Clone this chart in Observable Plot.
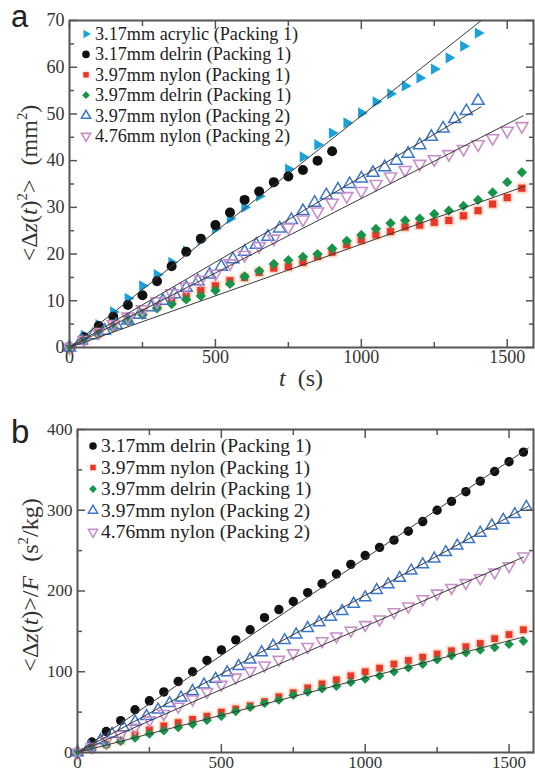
<!DOCTYPE html>
<html><head><meta charset="utf-8">
<script src="https://cdn.jsdelivr.net/npm/d3@7"></script>
<script src="https://cdn.jsdelivr.net/npm/@observablehq/plot@0.6"></script>
<style>
body{margin:0;background:#fff;}
#chart svg{display:block;}
</style></head><body><div id="chart"></div>
<script>
// ---- time grids (s) ----
const T50 = [0,50,100,150,200,250,300,350,400,450,500,550,600,650,700,750,800,850,900,950,1000,1050,1100,1150,1200,1250,1300,1350,1400,1450,1500,1550];
const T40 = [0,40,80,120,160,200,240,280,320,360,400,440,480,520,560,600,640,680,720,760,800,840,880,920,960,1000,1040,1080,1120,1160,1200,1240,1280,1320,1360,1400,1440,1480,1520,1560];

// ---- panel a : <Δz(t)^2> (mm^2) ----
const a_acrylic317 = [0,2.6,4.9,7.6,10.5,13.2,15.6,18.2,20.6,23,25.4,27.6,30,32.4,35.2,38.2,40.8,43.4,45.9,48.1,50.2,52.6,54.3,56,57.7,59.6,62,64.5,67.3];
const a_delrin317 = [0,2.2,4.6,6.6,9.1,11.2,14.2,17.4,20.5,23.3,26.2,28.9,31.6,33.4,35.4,36.6,38,40,42];
const a_nylon397P1 = [0,1.5,3,4.5,6,7.5,8.8,10,11,12.2,13.2,14.3,15,16.1,17,17.3,18.2,19.5,20.4,22,23,24.1,24.8,25.8,26.2,26.8,27.2,28.2,29.3,30.7,32.1,34.1];
const a_delrin397P1 = [0,1.5,2.8,4.2,5.6,7,8.4,9.3,10.3,11,12.2,13.6,15.2,16.4,17.9,18.7,19.4,20,21.2,22.8,24.1,25.4,26.6,27.2,27.6,28.6,29.3,30.3,31.6,33.2,35.4,37.5];
const a_nylon397P2 = [0,1.5,2.6,3.6,4.8,5.8,7,8.6,10,11.4,12.8,14.2,15.6,17.3,18.9,20.5,22,23.7,25.5,27.3,29.2,31,32.6,33.8,35,36.2,37.4,38.6,40,41.5,43.3,45.1,46.9,48.9,50.6,52.8];
const a_nylon476P2 = [0,1.6,3.3,5,6.6,8.2,9.9,11.6,13,14.5,15.8,18,19.8,21.7,23.3,25.7,27.4,29.1,31,32.4,33.5,35,36.6,38,39.3,40.3,41.4,42.5,43.5,44.8,46.4,47.4];
// fitted straight lines, panel a : [t, value] end points
const a_fitAcrylic = [[0,0],[1411,70]];
const a_fitNylonP2 = [[0,0],[1410,51.5]];
const a_fitNylon476 = [[0,0],[1555,49.6]];
const a_fitPacking1 = [[0,0],[1560,34.5]];

// ---- panel b : <Δz(t)>/F (s^2/kg) ----
const b_delrin317 = [0,13,26,39.5,53,64,75,88,100,114,127,139.5,152,167,177,187,198,209,221,233,244,254,263,274,286,300,311,323,336,348,360,372];
const b_nylon397P1 = [0,5,10,15,22,28,33,37,41,45,50,54,58,63,69,74,80,85,90,95,100,104.5,109.5,114,118,122,126,131,135,141,146,152];
const b_delrin397P1 = [0,4,9,14,18,23,27,31,35,40,45,51,56,61,65,71,75,79,82,87,91,95,100,105,109.5,115,120,123.5,127,130,134,138];
const b_nylon397P2 = [0,7,15,23,31,38,45,53,61,68,76,84,91,99,107,115,124,132,139,146,154,161,168,175,184,192,201,208,216,225,233,240,248,256,264,272,281,288,295,304];
const b_nylon476P2 = [0,7,14,22,31,40,48,57,66,75,84,93,101,108,115,123,131,138,144,151,158,165,174,181,190,197,204,210,216,223,231,243];
const b_fitDelrin317 = [[0,0],[1567,377]];
const b_fitNylonP2 = [[0,0],[1567,305]];
const b_fitNylon476 = [[0,0],[1550,242]];
const b_fitPacking1 = [[0,0],[1550,143]];

// ---- ticks ----
const xTicksMajor = [0,500,1000,1500];
const xTicksMinor = [250,750,1250];
const yTicksMajorA = [0,10,20,30,40,50,60,70];
const yTicksMinorA = [5,15,25,35,45,55,65];
const yTicksMajorB = [0,100,200,300,400];
const yTicksMinorB = [50,150,250,350];

// ---- legend labels ----
const labAcrylic = "3.17mm acrylic (Packing 1)";
const labDelrin317 = "3.17mm delrin (Packing 1)";
const labNylon397P1 = "3.97mm nylon (Packing 1)";
const labDelrin397P1 = "3.97mm delrin (Packing 1)";
const labNylon397P2 = "3.97mm nylon (Packing 2)";
const labNylon476P2 = "4.76mm nylon (Packing 2)";

// ---- styles ----
const ST = {
  acrylic: {symbol:"triangle", rotate:90, fill:"#1ba1da", stroke:"none", k:0.84},
  delrin317: {symbol:"circle", rotate:0, fill:"#111", stroke:"none", k:1},
  nylonP1: {symbol:"square", rotate:0, fill:"#e8362a", stroke:"none", k:0.8, glow:"#f6a070"},
  delrinP1: {symbol:"square", rotate:45, fill:"#16944a", stroke:"none", k:0.82},
  nylonP2: {symbol:"triangle", rotate:0, fill:"none", stroke:"#3b76c8", sw:1.5, k:0.9},
  nylon476: {symbol:"triangle", rotate:180, fill:"none", stroke:"#c88ec8", sw:1.6, k:0.9}
};
const serif = "Liberation Serif, Times New Roman, serif";
const fmt = d3.format("d");

function pairs(ts, vs){ return vs.map((v,i)=>({t: ts[i], v})); }

function dotMarks(data, st, r){
  const m = [];
  if (st.glow) m.push(Plot.dot(data, {x:"t", y:"v", symbol: st.symbol, rotate: st.rotate, r: r*1.08, fill: st.glow, fillOpacity: 0.7, stroke: "none", imageFilter: "blur(1px)"}));
  m.push(Plot.dot(data, {x:"t", y:"v", symbol: st.symbol, rotate: st.rotate, r: r*st.k, fill: st.fill, stroke: st.stroke, strokeWidth: st.sw || 1}));
  return m;
}
function fitLine(ends){ return Plot.line(ends, {x: d=>d[0], y: d=>d[1], stroke:"#3a3a3a", strokeWidth:1}); }

function axes(yMajor, yMinor){
  const c = "#555";
  return [
    Plot.axisX(xTicksMajor, {anchor:"bottom", tickSize:0, tickPadding:3, label:null, tickFormat: fmt}),
    Plot.axisX(xTicksMajor, {anchor:"bottom", tickSize:-8, text:null, label:null, stroke:c, strokeWidth:1.5}),
    Plot.axisX(xTicksMinor, {anchor:"bottom", tickSize:-5, text:null, label:null, stroke:c, strokeWidth:1.5}),
    Plot.axisX(xTicksMajor, {anchor:"top", tickSize:-8, text:null, label:null, stroke:c, strokeWidth:1.5}),
    Plot.axisX(xTicksMinor, {anchor:"top", tickSize:-5, text:null, label:null, stroke:c, strokeWidth:1.5}),
    Plot.axisY(yMajor, {anchor:"left", tickSize:0, tickPadding:5, label:null, tickFormat: fmt}),
    Plot.axisY(yMajor, {anchor:"left", tickSize:-8, text:null, label:null, stroke:c, strokeWidth:1.5}),
    Plot.axisY(yMinor, {anchor:"left", tickSize:-5, text:null, label:null, stroke:c, strokeWidth:1.5}),
    Plot.axisY(yMajor, {anchor:"right", tickSize:-8, text:null, label:null, stroke:c, strokeWidth:1.5}),
    Plot.axisY(yMinor, {anchor:"right", tickSize:-5, text:null, label:null, stroke:c, strokeWidth:1.5}),
    Plot.frame({stroke:c, strokeWidth:2})
  ];
}

const symType = {triangle: d3.symbolTriangle, circle: d3.symbolCircle, square: d3.symbolSquare};
function legend(svg, items, {x, y0, dy, tx, fs, r}){
  const g = d3.select(svg).append("g").attr("text-anchor", "start");
  items.forEach(([label, st], i) => {
    const y = y0 + i*dy;
    const area = Math.PI * (r*st.k)**2;
    const p = d3.symbol(symType[st.symbol], area)();
    if (st.glow) g.append("path").attr("d", d3.symbol(symType[st.symbol], area*1.25)()).attr("transform", `translate(${x},${y}) rotate(${st.rotate})`).attr("fill", st.glow).attr("opacity", 0.7).style("filter","blur(1px)");
    g.append("path").attr("d", p).attr("transform", `translate(${x},${y}) rotate(${st.rotate})`)
      .attr("fill", st.fill).attr("stroke", st.stroke).attr("stroke-width", st.sw || 1);
    g.append("text").attr("x", tx).attr("y", y).attr("dy", "0.33em").attr("font-family", serif)
      .attr("text-anchor", "start").attr("font-size", fs).attr("fill", "#222").text(label);
  });
}
function richText(svg, parts, {x, y, fs, rotate, anchor="middle"}){
  const t = d3.select(svg).append("text")
    .attr("transform", `translate(${x},${y})` + (rotate ? ` rotate(${rotate})` : ""))
    .attr("text-anchor", anchor).attr("font-family", serif)
    .attr("font-size", fs).attr("fill", "#333");
  let shift = 0;
  for (const p of parts){
    const s = t.append("tspan").text(p.text);
    if (p.italic) s.attr("font-style","italic");
    let dyv = 0;
    if (p.sup && shift === 0){ dyv = -fs*0.42; shift = 1; s.attr("font-size", fs*0.62); }
    else if (!p.sup && shift === 1){ dyv = fs*0.42; shift = 0; }
    else if (p.sup) s.attr("font-size", fs*0.62);
    if (dyv) s.attr("dy", dyv);
    if (p.dx) s.attr("dx", p.dx);
  }
}
function panelLetter(svg, letter, x, y, fs){
  d3.select(svg).append("text").attr("x", x).attr("y", y).attr("text-anchor", "start")
    .attr("font-family","Liberation Sans, Arial, sans-serif")
    .attr("font-size", fs).attr("fill","#222").text(letter);
}

// ---------- panel a ----------
const svgA = Plot.plot({
  width: 535, height: 400,
  marginTop: 20, marginBottom: 53, marginLeft: 69, marginRight: 2,
  x: {domain: [0, 1590]},
  y: {domain: [0, 70]},
  style: {fontFamily: serif, fontSize: "18px", color: "#333", background: "#fff"},
  marks: [
    ...dotMarks(pairs(T50, a_acrylic317), ST.acrylic, 5),
    ...dotMarks(pairs(T50, a_delrin317), ST.delrin317, 5),
    ...dotMarks(pairs(T50, a_nylon397P1), ST.nylonP1, 5),
    ...dotMarks(pairs(T50, a_delrin397P1), ST.delrinP1, 5),
    ...dotMarks(pairs(T40, a_nylon397P2), ST.nylonP2, 5),
    ...dotMarks(pairs(T50, a_nylon476P2), ST.nylon476, 5),
    fitLine(a_fitAcrylic), fitLine(a_fitNylonP2), fitLine(a_fitNylon476), fitLine(a_fitPacking1),
    ...axes(yTicksMajorA, yTicksMinorA)
  ]
});
legend(svgA, [[labAcrylic, ST.acrylic],[labDelrin317, ST.delrin317],[labNylon397P1, ST.nylonP1],[labDelrin397P1, ST.delrinP1],[labNylon397P2, ST.nylonP2],[labNylon476P2, ST.nylon476]],
  {x: 86, y0: 34, dy: 20.4, tx: 95, fs: 18.2, r: 3.8});
richText(svgA, [{text:"<Δ"},{text:"z",italic:true},{text:"("},{text:"t",italic:true},{text:")"},{text:"2",sup:true},{text:">"},{text:"(mm", dx: 14},{text:"2",sup:true},{text:")"}],
  {x: 37, y: 183, fs: 24, rotate: -90});
richText(svgA, [{text:"t",italic:true},{text:"(s)", dx: 12}], {x: 301, y: 386, fs: 24});
panelLetter(svgA, "a", 11, 27, 31);

// ---------- panel b ----------
const svgB = Plot.plot({
  width: 535, height: 371,
  marginTop: 29, marginBottom: 19, marginLeft: 77, marginRight: 2,
  x: {domain: [0, 1585]},
  y: {domain: [0, 400]},
  style: {fontFamily: serif, fontSize: "17px", color: "#333", background: "#fff"},
  marks: [
    ...dotMarks(pairs(T50, b_delrin317), ST.delrin317, 4.7),
    ...dotMarks(pairs(T50, b_nylon397P1), ST.nylonP1, 4.7),
    ...dotMarks(pairs(T50, b_delrin397P1), ST.delrinP1, 4.7),
    ...dotMarks(pairs(T40, b_nylon397P2), ST.nylonP2, 4.7),
    ...dotMarks(pairs(T50, b_nylon476P2), ST.nylon476, 4.7),
    fitLine(b_fitDelrin317), fitLine(b_fitNylonP2), fitLine(b_fitNylon476), fitLine(b_fitPacking1),
    ...axes(yTicksMajorB, yTicksMinorB)
  ]
});
legend(svgB, [[labDelrin317, ST.delrin317],[labNylon397P1, ST.nylonP1],[labDelrin397P1, ST.delrinP1],[labNylon397P2, ST.nylonP2],[labNylon476P2, ST.nylon476]],
  {x: 93, y0: 46, dy: 21.5, tx: 101, fs: 19.5, r: 3.8});
richText(svgB, [{text:"<Δ"},{text:"z",italic:true},{text:"("},{text:"t",italic:true},{text:")>/"},{text:"F",italic:true},{text:"(s", dx: 14},{text:"2",sup:true},{text:"/kg)"}],
  {x: 38, y: 185, fs: 24, rotate: -90});
panelLetter(svgB, "b", 11, 43, 33);

document.getElementById("chart").append(svgA, svgB);
</script></body></html>
